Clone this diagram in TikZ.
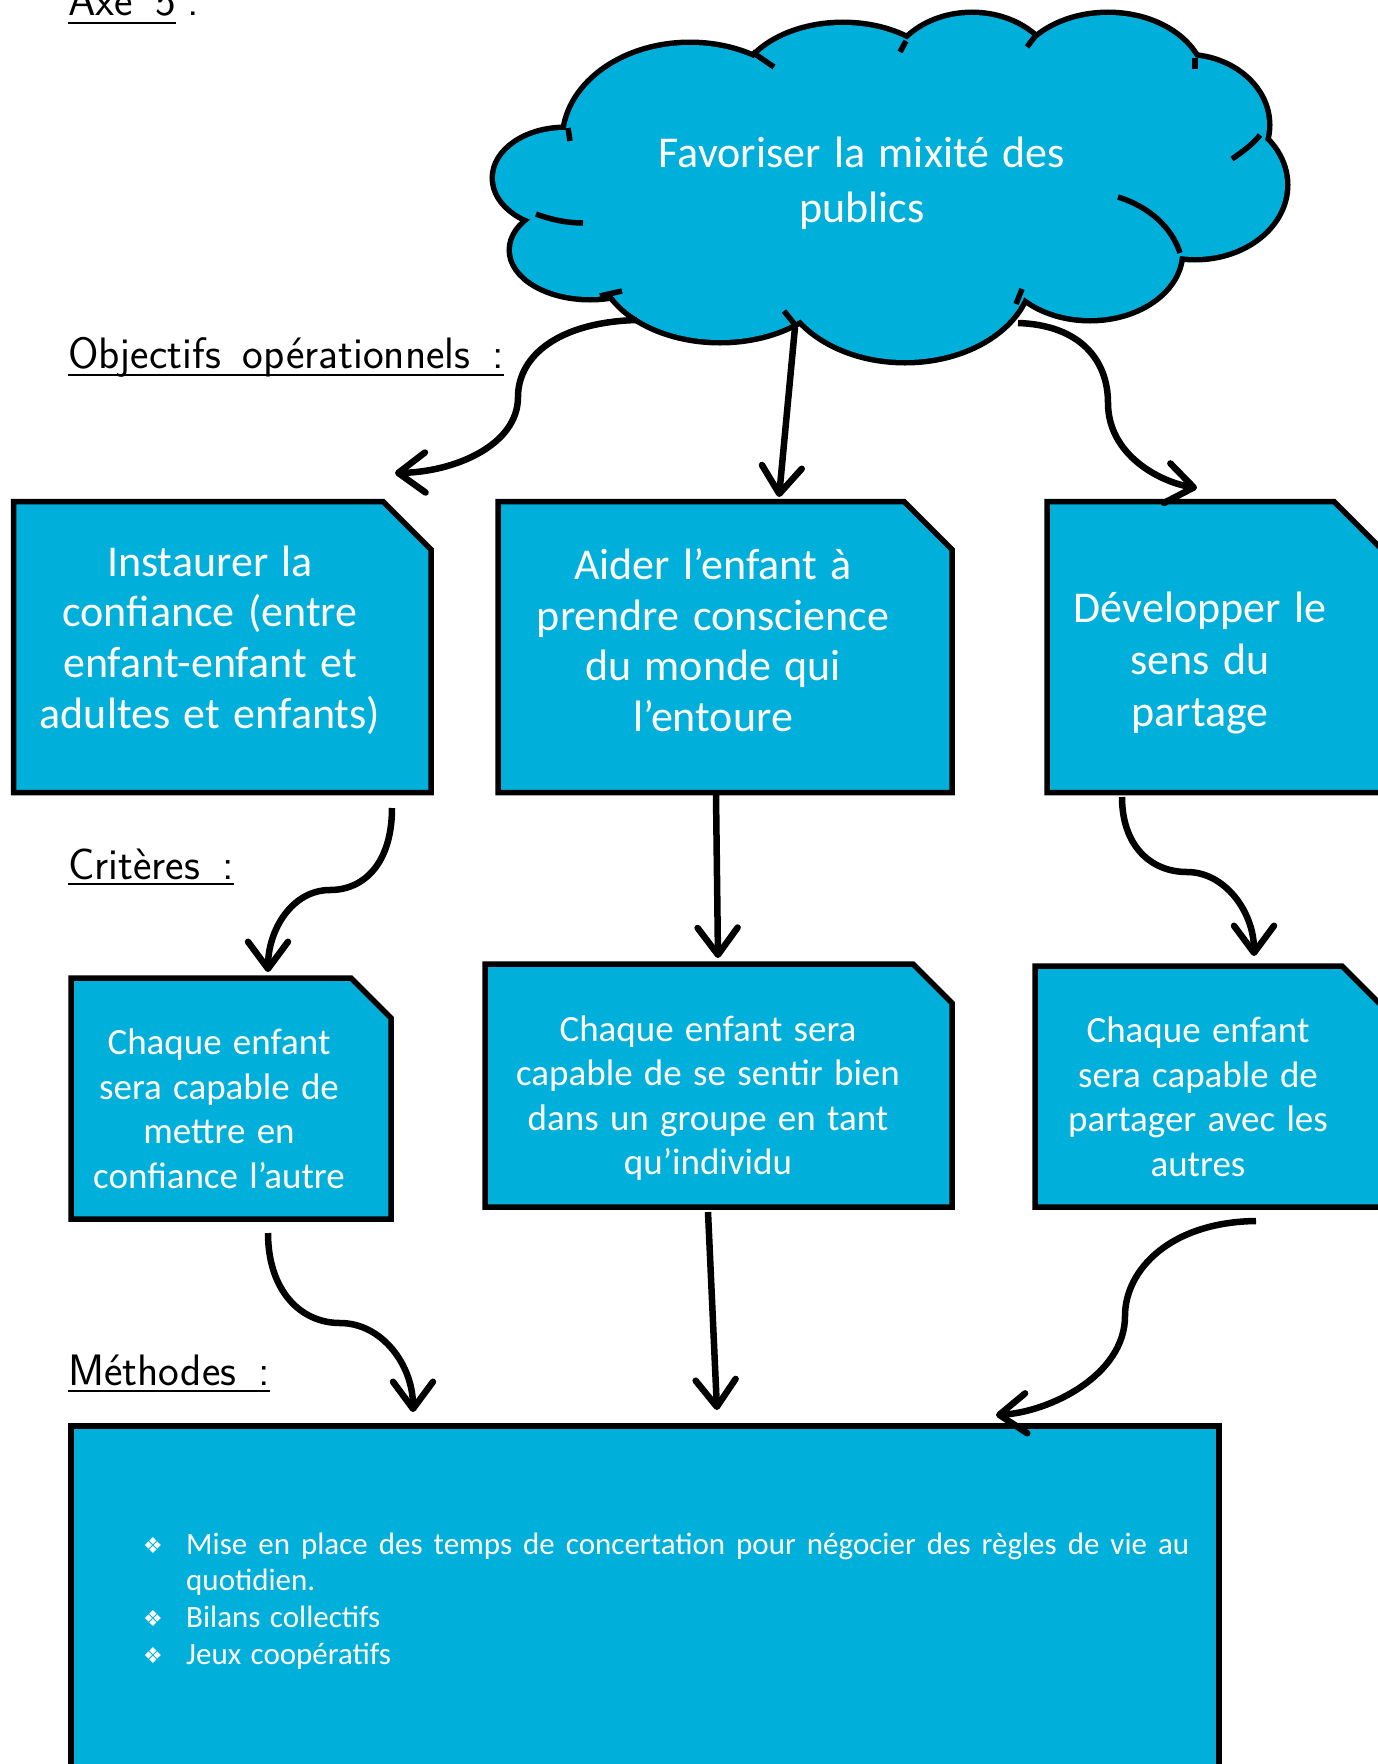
\documentclass[tikz,border=0pt]{standalone}
\usepackage{fontspec}
\setmainfont{Carlito}[WordSpace={1.35,1.6,1}]
\newfontfamily\djv{DejaVu Sans}
\usetikzlibrary{arrows.meta,calc}
\definecolor{boxblue}{RGB}{0,176,219}
\tikzset{
  boxnode/.style={rectangle, inner sep=0pt, outer sep=0pt},
  boxline/.style={draw=black, fill=boxblue, line width=5.5pt, line join=miter},
  bigtxt/.style={text=white, align=center, inner sep=0pt,
    font=\fontsize{44}{50.6}\selectfont},
  midtxt/.style={text=white, align=center, inner sep=0pt,
    font=\fontsize{37}{44.5}\selectfont},
  mtext/.style={text=white, align=justify, inner sep=0pt, text width=1046pt,
    font=\fontsize{31}{36.8}\selectfont},
  lbl/.style={text=black, inner sep=0pt, anchor=base west,
    font=\sffamily\fontsize{44}{50}\selectfont},
  uline/.style={line width=2pt, black},
  arr/.style={line width=6.5pt, black, -{Straight Barb[length=27pt,width=40pt,round]}},
  cloudline/.style={line width=5.5pt, black},
}
\newcommand{\bulsym}{\makebox[43pt][l]{\raisebox{1pt}{\djv\fontsize{22}{22}\selectfont ❖}}}
\newcommand{\wsp}{\hspace{0.5em}}
\begin{document}
\begin{tikzpicture}[x=1pt,y=-1pt]
\useasboundingbox (0,0) rectangle (1378,1764);
\clip (0,0) rectangle (1378,1764);

% ---------- cloud ----------
\coordinate (cloud) at (860,180);
\foreach \cx/\cy/\rx/\ry in {690/140/125/95, 843/95/105/70, 972/85/85/70,
  1108/85/95/70, 1185/125/82/68, 1195/185/90/72, 1090/252/90/66,
  905/270/125/90, 720/260/120/80, 590/250/78/47, 565/178/70/48}
  \draw[line width=11pt, black] (\cx,\cy) ellipse [x radius=\rx pt, y radius=\ry pt];
\foreach \cx/\cy/\rx/\ry in {690/140/125/95, 843/95/105/70, 972/85/85/70,
  1108/85/95/70, 1185/125/82/68, 1195/185/90/72, 1090/252/90/66,
  905/270/125/90, 720/260/120/80, 590/250/78/47, 565/178/70/48}
  \fill[boxblue] (\cx,\cy) ellipse [x radius=\rx pt, y radius=\ry pt];
\fill[boxblue] (690,140) -- (843,95) -- (972,85) -- (1108,85) -- (1185,125)
  -- (1195,185) -- (1090,252) -- (905,270) -- (720,260) -- (590,250) -- (565,178) -- cycle;
% inner ticks
\draw[cloudline] (536,214) .. controls (552,220) and (568,223) .. (583,223);
\draw[cloudline] (600,296) -- (622,291);
\draw[cloudline] (796,326) -- (784,311);
\draw[cloudline] (1016,304) -- (1022,289);
\draw[cloudline] (1118,197) .. controls (1150,207) and (1172,228) .. (1180,253);
\draw[cloudline] (1232,159) .. controls (1245,150) and (1254,143) .. (1260,135);
\draw[cloudline] (1195,58) -- (1195,69);
\draw[cloudline] (1027,47) -- (1036,35);
\draw[cloudline] (900,52) -- (906,41);
\draw[cloudline] (752,52) -- (774,67);
\draw[cloudline] (570,141) -- (568,128);
\node[bigtxt, font=\fontsize{44}{55}\selectfont] (cloudtxt) at (862,183) {Favoriser la mixité des\\publics};

% ---------- labels ----------
\node[lbl] (axe) at (68,16) {Axe\wsp 5};
\node[lbl] (axecol) at (187,16) {:};
\draw[uline] ([yshift=-7pt]axe.base west) -- ([yshift=-7pt]axe.base east);
\node[lbl] (obj) at (68,368) {Objectifs\wsp opérationnels\wsp :};
\draw[uline] ([yshift=-7pt]obj.base west) -- ([yshift=-7pt]obj.base east);
\node[lbl] (crit) at (68,879) {Critères\wsp :};
\draw[uline] ([yshift=-5pt]crit.base west) -- ([yshift=-5pt]crit.base east);
\node[lbl] (meth) at (68,1385) {Méthodes\wsp :};
\draw[uline] ([yshift=-6pt]meth.base west) -- ([yshift=-6pt]meth.base east);

% ---------- boxes row 1 ----------
\node[boxnode, minimum width=417.5pt, minimum height=291pt] (b1) at (222.25,647) {};
\filldraw[boxline] (b1.south west) -- (b1.north west) -- ([xshift=-48pt]b1.north east)
  -- ([yshift=-48pt]b1.north east) -- (b1.south east) -- cycle;
\node[boxnode, minimum width=454pt, minimum height=291pt] (b2) at (725,647) {};
\filldraw[boxline] (b2.south west) -- (b2.north west) -- ([xshift=-48pt]b2.north east)
  -- ([yshift=-48pt]b2.north east) -- (b2.south east) -- cycle;
\node[boxnode, minimum width=335pt, minimum height=291pt] (b3) at (1214.5,647) {};
\filldraw[boxline] (b3.south west) -- (b3.north west) -- ([xshift=-48pt]b3.north east)
  -- ([yshift=-48pt]b3.north east) -- (b3.south east) -- cycle;

\node[bigtxt] (t1) at (210,640) {Instaurer la\\confiance (entre\\enfant-enfant et\\adultes et enfants)};
\node[bigtxt] (t2) at (713,640) {Aider l’enfant à\\prendre conscience\\du monde qui\\l’entoure};
\node[bigtxt, font=\fontsize{44}{52}\selectfont] (t3) at (1200,663) {Développer le\\sens du\\partage};

% ---------- boxes row 2 ----------
\node[boxnode, minimum width=320pt, minimum height=241pt] (b4) at (231,1098.5) {};
\filldraw[boxline] (b4.south west) -- (b4.north west) -- ([xshift=-40pt]b4.north east)
  -- ([yshift=-40pt]b4.north east) -- (b4.south east) -- cycle;
\node[boxnode, minimum width=467pt, minimum height=243pt] (b5) at (718.5,1085.5) {};
\filldraw[boxline] (b5.south west) -- (b5.north west) -- ([xshift=-39pt]b5.north east)
  -- ([yshift=-39pt]b5.north east) -- (b5.south east) -- cycle;
\node[boxnode, minimum width=347pt, minimum height=241pt] (b6) at (1208.5,1086.5) {};
\filldraw[boxline] (b6.south west) -- (b6.north west) -- ([xshift=-40pt]b6.north east)
  -- ([yshift=-40pt]b6.north east) -- (b6.south east) -- cycle;

\node[midtxt] (t4) at (219,1109) {Chaque enfant\\sera capable de\\mettre en\\confiance l’autre};
\node[midtxt] (t5) at (708,1098) {Chaque enfant sera\\capable de se sentir bien\\dans un groupe en tant\\qu’individu};
\node[midtxt] (t6) at (1198,1097) {Chaque enfant\\sera capable de\\partager avec les\\autres};

% ---------- methods box ----------
\node[boxnode, minimum width=1148pt, minimum height=360pt] (b7) at (645,1606) {};
\filldraw[boxline] (b7.south west) rectangle (b7.north east);
\node[mtext, anchor=west] (t7) at (143,1601) {%
\noindent\hangindent=43pt\hangafter=1\bulsym Mise en place des temps de concertation pour négocier des règles de vie au quotidien.\par
\noindent\hangindent=43pt\bulsym Bilans collectifs\par
\noindent\hangindent=43pt\bulsym Jeux coopératifs\par};

% ---------- connectors ----------
\coordinate (a1s) at (637,320);  \coordinate (a1e) at (395,473);
\coordinate (a2s) at (795,327);  \coordinate (a2e) at (779,497);
\coordinate (a3s) at (1018,323); \coordinate (a3e) at (1197,488);
\coordinate (a4s) at (392,808);  \coordinate (a4e) at (268,972);
\coordinate (a5s) at (716,795);  \coordinate (a5e) at (718,958);
\coordinate (a6s) at (1122,797); \coordinate (a6e) at (1254,956);
\coordinate (a7s) at (268,1233); \coordinate (a7e) at (413,1412);
\coordinate (a8s) at (708,1212); \coordinate (a8e) at (717,1410);
\coordinate (a9s) at (1256,1221);\coordinate (a9e) at (996,1415);

\draw[arr] (a1s) .. controls (560,322) and (518,355) .. (518,397)
  .. controls (518,445) and (455,472) .. (a1e);
\draw[arr] (a2s) -- (a2e);
\draw[arr] (a3s) .. controls (1080,325) and (1108,360) .. (1108,403)
  .. controls (1108,455) and (1160,482) .. (a3e);
\draw[arr] (a4s) .. controls (392,862) and (365,890) .. (330,890)
  .. controls (292,890) and (268,930) .. (a4e);
\draw[arr] (a5s) -- (a5e);
\draw[arr] (a6s) .. controls (1122,845) and (1150,872) .. (1187,872)
  .. controls (1225,872) and (1254,912) .. (a6e);
\draw[arr] (a7s) .. controls (268,1290) and (300,1323) .. (340,1323)
  .. controls (382,1323) and (413,1365) .. (a7e);
\draw[arr] (a8s) -- (a8e);
\draw[arr] (a9s) .. controls (1170,1222) and (1125,1270) .. (1125,1316)
  .. controls (1125,1375) and (1050,1412) .. (a9e);
\end{tikzpicture}
\end{document}
